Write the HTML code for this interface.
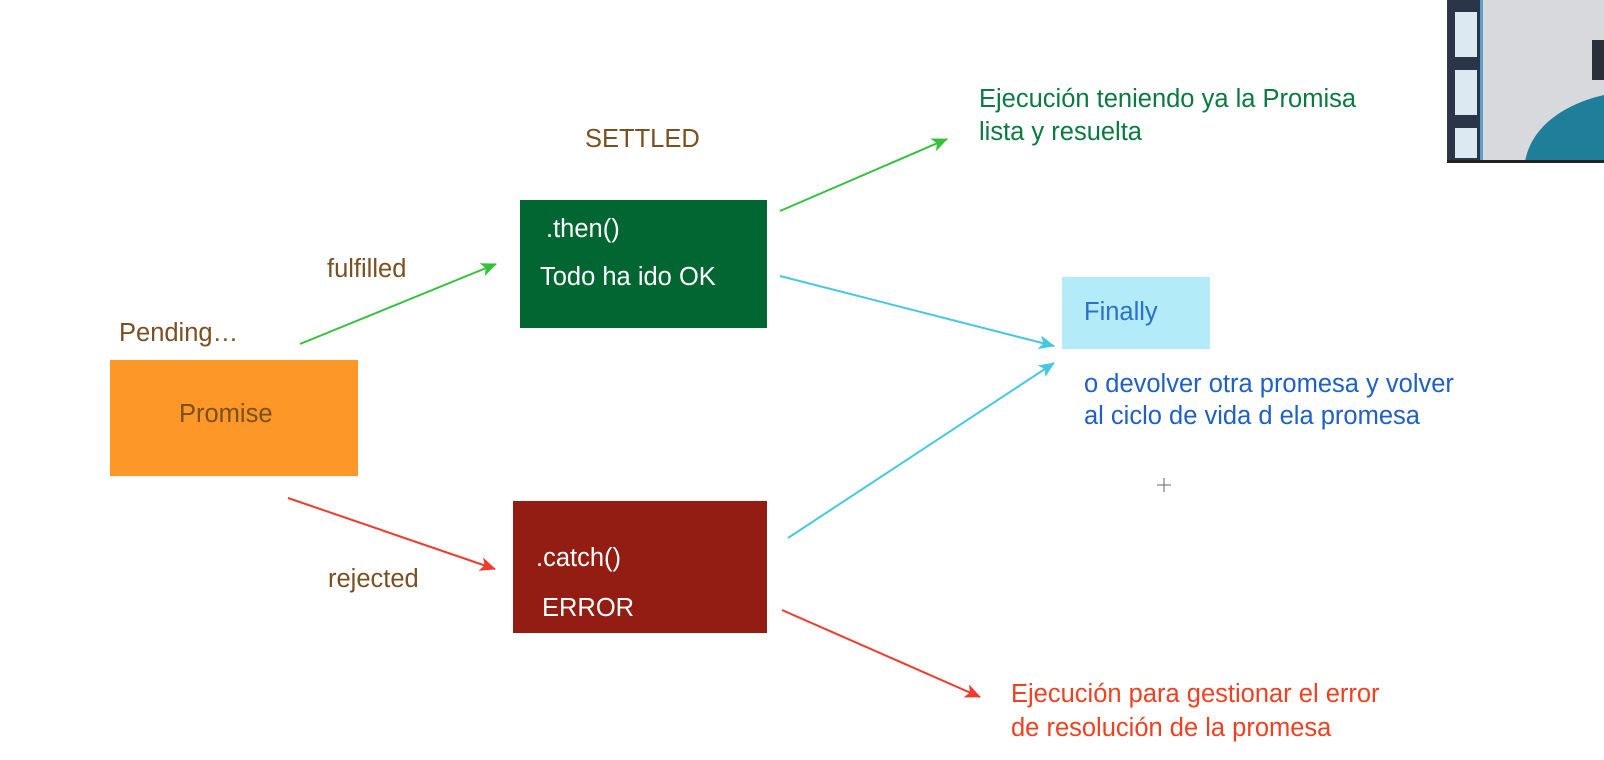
<!DOCTYPE html>
<html><head><meta charset="utf-8"><style>
html,body{margin:0;padding:0;background:#fff;}
body{width:1604px;height:760px;position:relative;overflow:hidden;font-family:"Liberation Sans",sans-serif;}
.t{position:absolute;font-size:25.5px;line-height:28px;white-space:nowrap;}
.b{position:absolute;}
</style></head><body>
<div class="b" style="left:110px;top:360px;width:248px;height:116px;background:#fd9727;"></div>
<div class="t" style="left:179px;top:400px;color:#7a5020;">Promise</div>
<div class="t" style="left:119px;top:319px;color:#7a5020;">Pending…</div>
<div class="t" style="left:585px;top:125px;color:#7a5020;">SETTLED</div>
<div class="t" style="left:327px;top:255px;color:#7a5020;">fulfilled</div>
<div class="t" style="left:328px;top:565px;color:#7a5020;">rejected</div>

<div class="b" style="left:520px;top:200px;width:247px;height:128px;background:#026633;"></div>
<div class="t" style="left:546px;top:215px;color:#fff;">.then()</div>
<div class="t" style="left:540px;top:263px;color:#fff;">Todo ha ido OK</div>

<div class="b" style="left:513px;top:501px;width:254px;height:132px;background:#931d12;"></div>
<div class="t" style="left:536px;top:544px;color:#fff;">.catch()</div>
<div class="t" style="left:542px;top:594px;color:#fff;">ERROR</div>

<div class="b" style="left:1062px;top:277px;width:148px;height:72px;background:#b3ecf8;"></div>
<div class="t" style="left:1084px;top:298px;color:#2a70c8;">Finally</div>
<div class="t" style="left:1084px;top:370px;color:#1f5fc8;">o devolver otra promesa y volver</div>
<div class="t" style="left:1084px;top:402px;color:#1f5fc8;">al ciclo de vida d ela promesa</div>

<div class="t" style="left:979px;top:85px;color:#0a7a40;">Ejecución teniendo ya la Promisa</div>
<div class="t" style="left:979px;top:118px;color:#0a7a40;">lista y resuelta</div>

<div class="t" style="left:1011px;top:680px;color:#f04020;">Ejecución para gestionar el error</div>
<div class="t" style="left:1011px;top:714px;color:#f04020;">de resolución de la promesa</div>

<svg width="1604" height="760" style="position:absolute;left:0;top:0">
<defs>
<marker id="g" markerWidth="16" markerHeight="14" refX="15" refY="7" orient="auto" markerUnits="userSpaceOnUse"><path d="M0,0 L16,7 L0,14 L4,7z" fill="#33c23a"/></marker>
<marker id="c" markerWidth="16" markerHeight="14" refX="15" refY="7" orient="auto" markerUnits="userSpaceOnUse"><path d="M0,0 L16,7 L0,14 L4,7z" fill="#45c8e0"/></marker>
<marker id="r" markerWidth="16" markerHeight="14" refX="15" refY="7" orient="auto" markerUnits="userSpaceOnUse"><path d="M0,0 L16,7 L0,14 L4,7z" fill="#f03a2a"/></marker>
</defs>
<g stroke-width="2" fill="none">
<line x1="300" y1="344" x2="496" y2="264" stroke="#33c23a" marker-end="url(#g)"/>
<line x1="780" y1="211" x2="947" y2="139" stroke="#33c23a" marker-end="url(#g)"/>
<line x1="780" y1="276" x2="1054" y2="346" stroke="#45c8e0" marker-end="url(#c)"/>
<line x1="788" y1="538" x2="1054" y2="363" stroke="#45c8e0" marker-end="url(#c)"/>
<line x1="288" y1="498" x2="495" y2="569" stroke="#f03a2a" marker-end="url(#r)"/>
<line x1="782" y1="610" x2="980" y2="697" stroke="#f03a2a" marker-end="url(#r)"/>
</g>
<g stroke="#666" stroke-width="1">
<line x1="1157" y1="485" x2="1171" y2="485"/><line x1="1164" y1="478" x2="1164" y2="492"/>
</g>
<rect x="1447" y="0" width="157" height="162" fill="#d8d9dc"/>
<rect x="1447" y="0" width="35" height="162" fill="#2a3648"/>
<rect x="1455" y="12" width="22" height="45" fill="#dce9f2"/>
<rect x="1455" y="70" width="22" height="45" fill="#dce9f2"/>
<rect x="1455" y="128" width="22" height="30" fill="#dce9f2"/>
<rect x="1480" y="0" width="3" height="160" fill="#5aa0c8"/>
<path d="M1525,162 C1530,130 1560,105 1604,95 L1604,162z" fill="#1f7f9a"/>
<rect x="1592" y="40" width="12" height="40" fill="#2a2f38"/>
<rect x="1447" y="160" width="157" height="3" fill="#222"/>
</svg>
</body></html>
